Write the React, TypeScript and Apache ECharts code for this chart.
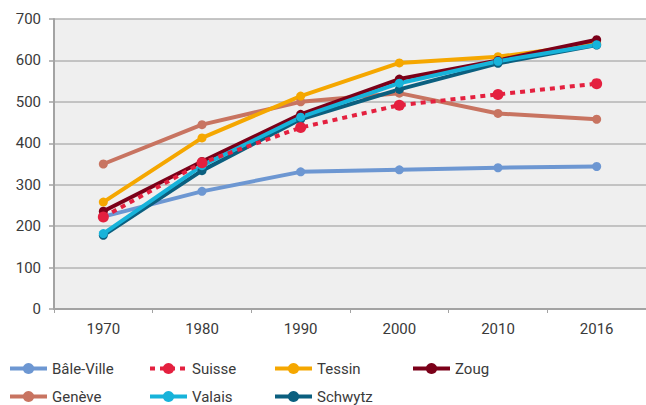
import React, { useEffect, useRef } from "react";
import * as echarts from "echarts";

const years = ["1970", "1980", "1990", "2000", "2010", "2016"];
const baleVille = [223, 284, 331, 336, 341, 344];
const geneve = [350, 445, 500, 521, 472, 458];
const suisse = [222, 353, 438, 492, 518, 544];
const tessin = [258, 413, 514, 594, 609, 640];
const zoug = [236, 356, 470, 555, 600, 650];
const valais = [182, 346, 463, 545, 598, 638];
const schwytz = [178, 334, 458, 530, 593, 637];

const seriesDefs = [
  { name: "Bâle-Ville", data: baleVille, color: "#6d97d2", dash: false },
  { name: "Genève", data: geneve, color: "#c87461", dash: false },
  { name: "Tessin", data: tessin, color: "#f5a700", dash: false },
  { name: "Zoug", data: zoug, color: "#7b0019", dash: false },
  { name: "Schwytz", data: schwytz, color: "#0b5f7f", dash: false },
  { name: "Valais", data: valais, color: "#17b3da", dash: false },
  { name: "Suisse", data: suisse, color: "#e4203f", dash: true },
];

const legendCols = [
  { left: 3, names: ["Bâle-Ville", "Genève"] },
  { left: 143, names: ["Suisse", "Valais"] },
  { left: 268, names: ["Tessin", "Schwytz"] },
  { left: 406, names: ["Zoug"] },
];

export default function App() {
  const ref = useRef<HTMLDivElement>(null);
  useEffect(() => {
    if (!ref.current) return;
    const chart = echarts.init(ref.current, undefined, { renderer: "svg" });
    const font = "Roboto";
    chart.setOption({
      animation: false,
      textStyle: { fontFamily: font },
      grid: { left: 54, top: 19, width: 597, height: 290, containLabel: false },
      xAxis: {
        type: "category",
        data: years,
        boundaryGap: true,
        axisLine: { lineStyle: { color: "#a3a3a3", width: 2 } },
        axisTick: { show: true, length: 4, lineStyle: { color: "#a3a3a3", width: 1 } },
        axisLabel: { color: "#3a3a3a", fontSize: 15, margin: 12, fontFamily: font },
      },
      yAxis: {
        type: "value",
        min: 0,
        max: 700,
        interval: 100,
        axisLine: { show: true, lineStyle: { color: "#a3a3a3", width: 2 } },
        axisTick: { show: true, length: 5, lineStyle: { color: "#a3a3a3", width: 1.5 } },
        axisLabel: { color: "#3a3a3a", fontSize: 15, margin: 13, fontFamily: font },
        splitLine: { show: true, lineStyle: { color: "#b3b3b3", width: 1.5 } },
        splitArea: { show: true, areaStyle: { color: ["#efefef", "#efefef"] } },
      },
      legend: legendCols.map((c) => ({
        orient: "vertical",
        left: c.left,
        top: 356,
        height: 60,
        itemGap: 13,
        itemWidth: 37,
        itemHeight: 14,
        data: c.names,
        lineStyle: { width: 4 },
        textStyle: { color: "#3a3a3a", fontSize: 15, fontFamily: font },
      })),
      series: seriesDefs.map((s) => ({
        name: s.name,
        type: "line",
        data: s.data,
        color: s.color,
        symbol: "circle",
        symbolSize: s.dash ? 11 : 9,
        lineStyle: { width: 4, color: s.color, type: s.dash ? [5, 5] : "solid" },
        itemStyle: { color: s.color },
        emphasis: { disabled: true },
      })),
    });
    return () => chart.dispose();
  }, []);
  return <div ref={ref} style={{ width: 646, height: 405, position: "absolute", left: 0, top: 0 }} />;
}
